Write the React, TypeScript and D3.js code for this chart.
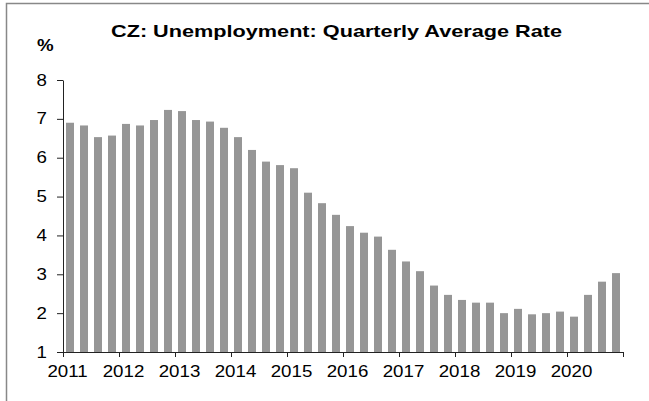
import React, { useEffect, useRef } from "react";
import * as d3 from "d3";

// quarterly unemployment rate, 2011Q1 .. 2020Q4
const years = [2011, 2012, 2013, 2014, 2015, 2016, 2017, 2018, 2019, 2020];
const quarters = years.flatMap((y) => [1, 2, 3, 4].map((q) => `${y}Q${q}`));
const rates = [
  6.9, 6.83, 6.53, 6.57,
  6.87, 6.83, 6.97, 7.23,
  7.2, 6.97, 6.93, 6.77,
  6.53, 6.2, 5.9, 5.81,
  5.73, 5.1, 4.83, 4.53,
  4.24, 4.07, 3.97, 3.63,
  3.33, 3.08, 2.71, 2.47,
  2.34, 2.27, 2.27, 2.0,
  2.11, 1.97, 2.0, 2.04,
  1.91, 2.47, 2.81, 3.03,
];
const yTicks = [1, 2, 3, 4, 5, 6, 7, 8];
const title = "CZ: Unemployment: Quarterly Average Rate";

const App = () => {
  const svgRef = useRef<SVGSVGElement | null>(null);
  const w = 649;
  const h = 401;
  const m = { top: 80, right: 26, bottom: 49, left: 63 };
  const stretch = 1.17; // text in the picture is drawn a bit wide
  const font = "'Liberation Sans', Arial, sans-serif";

  useEffect(() => {
    const svg = d3.select(svgRef.current);
    svg.selectAll("*").remove();
    svg.attr("width", w).attr("height", h).style("background", "#fff");

    // frame (only top and left edges show)
    svg.append("path")
      .attr("d", `M6.5,${h} V3.5 H${w}`)
      .attr("fill", "none")
      .attr("stroke", "#888")
      .attr("stroke-width", 1.5);

    const x = d3.scaleBand()
      .domain(quarters)
      .range([m.left, w - m.right])
      .paddingInner(0.43)
      .paddingOuter(0.215);

    const xYear = d3.scaleLinear()
      .domain([years[0], years[years.length - 1] + 1])
      .range([m.left, w - m.right]);

    const y = d3.scaleLinear()
      .domain([1, 8])
      .range([h - m.bottom, m.top]);

    svg.append("g")
      .selectAll("rect")
      .data(rates)
      .enter()
      .append("rect")
      .attr("x", (_, i) => x(quarters[i])!)
      .attr("width", x.bandwidth())
      .attr("y", (d) => y(d))
      .attr("height", (d) => y(1) - y(d))
      .attr("fill", "#969696");

    // y axis
    const yAxis = svg.append("g")
      .attr("transform", `translate(${m.left},0)`)
      .call(d3.axisLeft(y).tickValues(yTicks).tickFormat(d3.format("d")).tickSize(6).tickSizeOuter(0).tickPadding(0));
    yAxis.select(".domain").attr("stroke", "#222");
    yAxis.selectAll(".tick line").attr("stroke", "#222");
    yAxis.selectAll(".tick text")
      .attr("x", -16 / stretch)
      .attr("transform", `scale(${stretch},1)`)
      .attr("font-family", font)
      .attr("font-size", 16)
      .attr("fill", "#000");

    // x axis
    const xAxis = svg.append("g")
      .attr("transform", `translate(0,${h - m.bottom})`)
      .call(
        d3.axisBottom(xYear)
          .tickValues([...years, years[years.length - 1] + 1])
          .tickFormat((d) => (years.includes(+d) ? String(d) : ""))
          .tickSize(5)
          .tickSizeOuter(0)
          .tickPadding(9)
      );
    xAxis.select(".domain").attr("stroke", "#222");
    xAxis.selectAll(".tick line").attr("stroke", "#222");
    xAxis.selectAll(".tick text")
      .attr("x", 4 / stretch)
      .attr("transform", `scale(${stretch},1)`)
      .attr("font-family", font)
      .attr("font-size", 16)
      .attr("fill", "#000");

    // title and unit
    svg.append("text")
      .attr("x", 111)
      .attr("y", 37)
      .attr("textLength", 451)
      .attr("lengthAdjust", "spacingAndGlyphs")
      .attr("font-family", font)
      .attr("font-weight", "bold")
      .attr("font-size", 17)
      .text(title);

    svg.append("text")
      .attr("transform", `translate(37,51) scale(${stretch},1)`)
      .attr("font-family", font)
      .attr("font-weight", "bold")
      .attr("font-size", 16)
      .text("%");
  }, []);

  return (
    <div style={{ position: "absolute", left: 0, top: 0 }}>
      <svg ref={svgRef}></svg>
    </div>
  );
};

export default App;
